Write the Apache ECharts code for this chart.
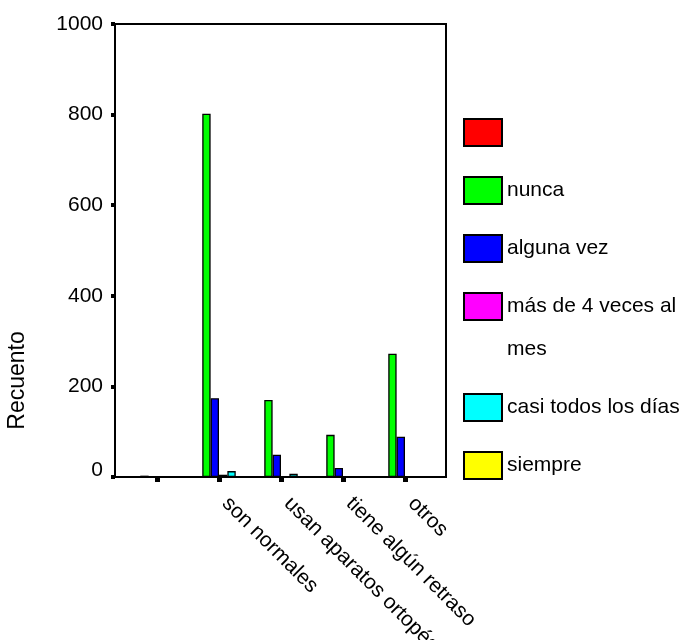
<!DOCTYPE html>
<html>
<head>
<meta charset="utf-8">
<script src="https://cdn.jsdelivr.net/npm/echarts@6/dist/echarts.min.js"></script>
<style>
  html, body { margin: 0; padding: 0; background: #fff; }
  #chart { width: 680px; height: 640px; }
</style>
</head>
<body>
<div id="chart"></div>
<script>
// Categories along the x axis (the first group has no label)
const categories = ['', 'son normales', 'usan aparatos ortopédicos', 'tiene algún retraso', 'otros'];

// Counts per answer
const sinRespuesta = [0, 0, 0, 0, 0];
const nunca = [3, 802, 170, 93, 272];
const algunaVez = [0, 174, 49, 20, 89];
const masDe4Veces = [0, 5, 2, 2, 2];
const casiTodosLosDias = [0, 13, 7, 2, 2];
const siempre = [0, 0, 1, 2, 2];

// Y axis ticks
const yTicks = [0, 200, 400, 600, 800, 1000];

const seriesDefs = [
  { name: ' ', data: sinRespuesta, color: '#ff0000' },
  { name: 'nunca', data: nunca, color: '#00ff00' },
  { name: 'alguna vez', data: algunaVez, color: '#0000ff' },
  { name: 'más de 4 veces al mes', data: masDe4Veces, color: '#ff00ff' },
  { name: 'casi todos los días', data: casiTodosLosDias, color: '#00ffff' },
  { name: 'siempre', data: siempre, color: '#ffff00' }
];

const FONT = '"Liberation Sans", Arial, sans-serif';
const plot = { left: 126, top: 24, width: 310, height: 453 };
const frame = { left: 115, top: 24, right: 446, bottom: 477 };

const legendCommon = {
  orient: 'vertical',
  left: 463,
  padding: 0,
  icon: 'rect',
  itemWidth: 38,
  itemHeight: 27,
  itemGap: 15,
  selectedMode: false,
  itemStyle: { borderColor: '#000', borderWidth: 2 },
  textStyle: { fontFamily: FONT, fontSize: 21, color: '#000', lineHeight: 43 },
  formatter: function (name) {
    // long label wraps onto a second line, first line level with the swatch
    return name === 'más de 4 veces al mes' ? '\nmás de 4 veces al\nmes' : name;
  }
};

const chart = echarts.init(document.getElementById('chart'), null, { renderer: 'canvas' });

chart.setOption({
  animation: false,
  backgroundColor: '#fff',
  grid: {
    left: plot.left, top: plot.top, width: plot.width, height: plot.height,
    containLabel: false, outerBoundsMode: 'none'
  },
  legend: [
    Object.assign({}, legendCommon, {
      top: 111,
      data: [' ', 'nunca', 'alguna vez']
    }),
    Object.assign({}, legendCommon, {
      top: 242,
      data: ['más de 4 veces al mes', 'casi todos los días', 'siempre']
    })
  ],
  xAxis: {
    type: 'category',
    data: categories,
    axisLine: { show: false },
    axisTick: { show: true, alignWithLabel: true, length: 5, lineStyle: { color: '#000', width: 5 } },
    axisLabel: {
      interval: 0,
      rotate: -45,
      margin: 17,
      padding: [0, 0, 0, 9],
      fontFamily: FONT,
      fontSize: 21,
      color: '#000'
    },
    splitLine: { show: false }
  },
  yAxis: {
    type: 'value',
    min: yTicks[0],
    max: yTicks[yTicks.length - 1],
    interval: yTicks[1] - yTicks[0],
    offset: plot.left - frame.left,
    name: 'Recuento',
    nameLocation: 'middle',
    nameGap: 86,
    nameRotate: 90,
    nameTextStyle: { fontFamily: FONT, fontSize: 23, color: '#000', padding: [0, 260, 0, 0] },
    axisLine: { show: true, lineStyle: { color: '#000', width: 2 } },
    axisTick: { show: true, length: 4, lineStyle: { color: '#000', width: 4 } },
    axisLabel: {
      margin: 12,
      fontFamily: FONT,
      fontSize: 21,
      color: '#000',
      formatter: function (v) { return v === 0 ? '{z|0}' : String(v); },
      rich: { z: { fontFamily: FONT, fontSize: 21, color: '#000', padding: [0, 0, 14, 0] } }
    },
    splitLine: { show: false }
  },
  graphic: [{
    type: 'rect',
    z: 1,
    silent: true,
    shape: { x: frame.left, y: frame.top, width: frame.right - frame.left, height: frame.bottom - frame.top },
    style: { fill: 'none', stroke: '#000', lineWidth: 2 }
  }],
  series: seriesDefs.map(function (s) {
    return {
      type: 'bar',
      name: s.name,
      data: s.data,
      barGap: '0%',
      barCategoryGap: '19%',
      itemStyle: { color: s.color, borderColor: '#000', borderWidth: 1.3 },
      emphasis: { disabled: true }
    };
  })
});
</script>
</body>
</html>
